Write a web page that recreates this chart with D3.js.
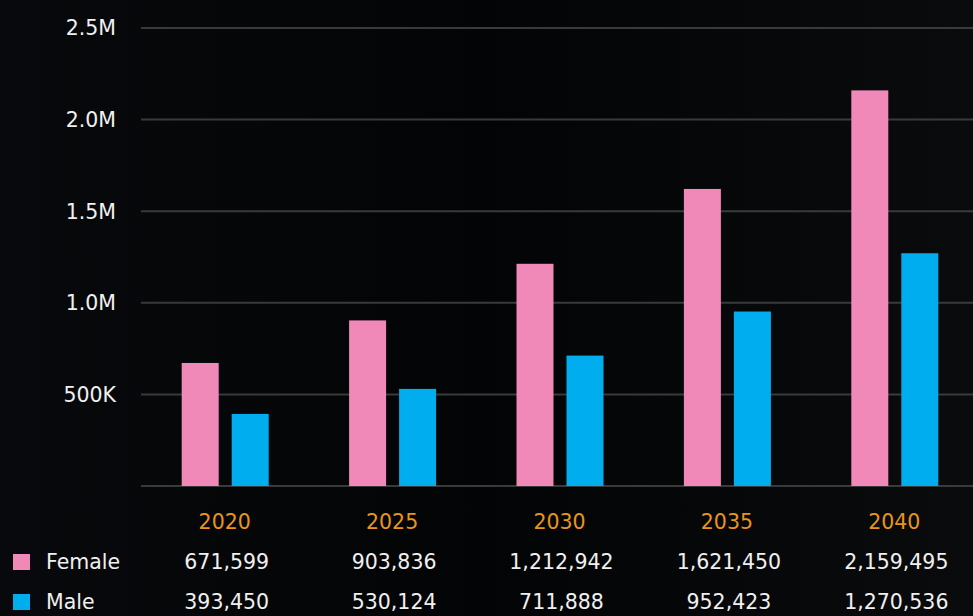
<!DOCTYPE html>
<html><head><meta charset="utf-8">
<script src="https://cdn.jsdelivr.net/npm/d3@7"></script>
<style>html,body{margin:0;padding:0;background:#050608;}svg{display:block;}</style>
</head><body>
<svg id="chart" width="973" height="616"></svg>
<script>
const years = ["2020","2025","2030","2035","2040"];
const female = [671599, 903836, 1212942, 1621450, 2159495];
const male = [393450, 530124, 711888, 952423, 1270536];
const yTicks = [0, 500000, 1000000, 1500000, 2000000, 2500000];
const yTickLabels = ["", "500K", "1.0M", "1.5M", "2.0M", "2.5M"];
const seriesNames = ["Female", "Male"];
const colors = ["#F088B8", "#00AEEF"];

const svg = d3.select("#chart");
const W = 973, H = 616;
const font = "'DejaVu Sans', sans-serif";
const fs = 20.5;

const defs = svg.append("defs");
const g1 = defs.append("linearGradient").attr("id","bg").attr("x1",0).attr("x2",1).attr("y1",0).attr("y2",0);
g1.append("stop").attr("offset","0").attr("stop-color","#08090c");
g1.append("stop").attr("offset","0.5").attr("stop-color","#030405");
g1.append("stop").attr("offset","1").attr("stop-color","#0a0b0d");
svg.append("rect").attr("width",W).attr("height",H).attr("fill","url(#bg)");

const x0 = d3.scaleBand().domain(years).range([141, 978]).padding(0);
const y = d3.scaleLinear().domain([0, 2500000]).range([486, 28]);

svg.append("g").selectAll("line").data(yTicks).join("line")
  .attr("x1", 141).attr("x2", W)
  .attr("y1", d => y(d)).attr("y2", d => y(d))
  .attr("stroke", "#3a3a3c").attr("stroke-width", 2);

svg.append("g").selectAll("text").data(yTicks).join("text")
  .attr("x", 116).attr("y", d => y(d)).attr("dy", "0.36em")
  .attr("text-anchor", "end").attr("fill", "#f0f0f0")
  .attr("font-family", font).attr("font-size", fs)
  .text((d,i) => yTickLabels[i]);

const x1 = d3.scaleBand().domain(seriesNames).range([-43, 44]).paddingInner(0.26).paddingOuter(0);
const data = [female, male];

const groups = svg.append("g").selectAll("g").data(years).join("g")
  .attr("transform", d => `translate(${x0(d) + x0.bandwidth()/2},0)`);
groups.selectAll("rect").data((d,i) => seriesNames.map((s,j) => ({s, v: data[j][i], j})))
  .join("rect")
  .attr("x", d => x1(d.s)).attr("width", x1.bandwidth())
  .attr("y", d => y(d.v)).attr("height", d => y(0) - y(d.v))
  .attr("fill", d => colors[d.j]);

svg.append("g").selectAll("text").data(years).join("text")
  .attr("x", d => x0(d) + x0.bandwidth()/2).attr("y", 522).attr("dy","0.36em")
  .attr("text-anchor","middle").attr("fill","#E8951C")
  .attr("font-family", font).attr("font-size", fs).text(d => d);

const fmt = d3.format(",");
const rowY = [562, 602];
seriesNames.forEach((s, j) => {
  const row = svg.append("g");
  row.append("rect").attr("x", 13).attr("y", rowY[j]-8).attr("width", 17).attr("height", 16).attr("fill", colors[j]);
  row.append("text").attr("x", 46).attr("y", rowY[j]).attr("dy","0.36em")
    .attr("fill","#f0f0f0").attr("font-family", font).attr("font-size", fs).text(s);
  row.selectAll("text.v").data(years).join("text").attr("class","v")
    .attr("x", d => x0(d) + x0.bandwidth()/2 + 2).attr("y", rowY[j]).attr("dy","0.36em")
    .attr("text-anchor","middle").attr("fill","#f0f0f0")
    .attr("font-family", font).attr("font-size", fs)
    .text((d,i) => fmt(data[j][i]));
});
</script>
</body></html>
